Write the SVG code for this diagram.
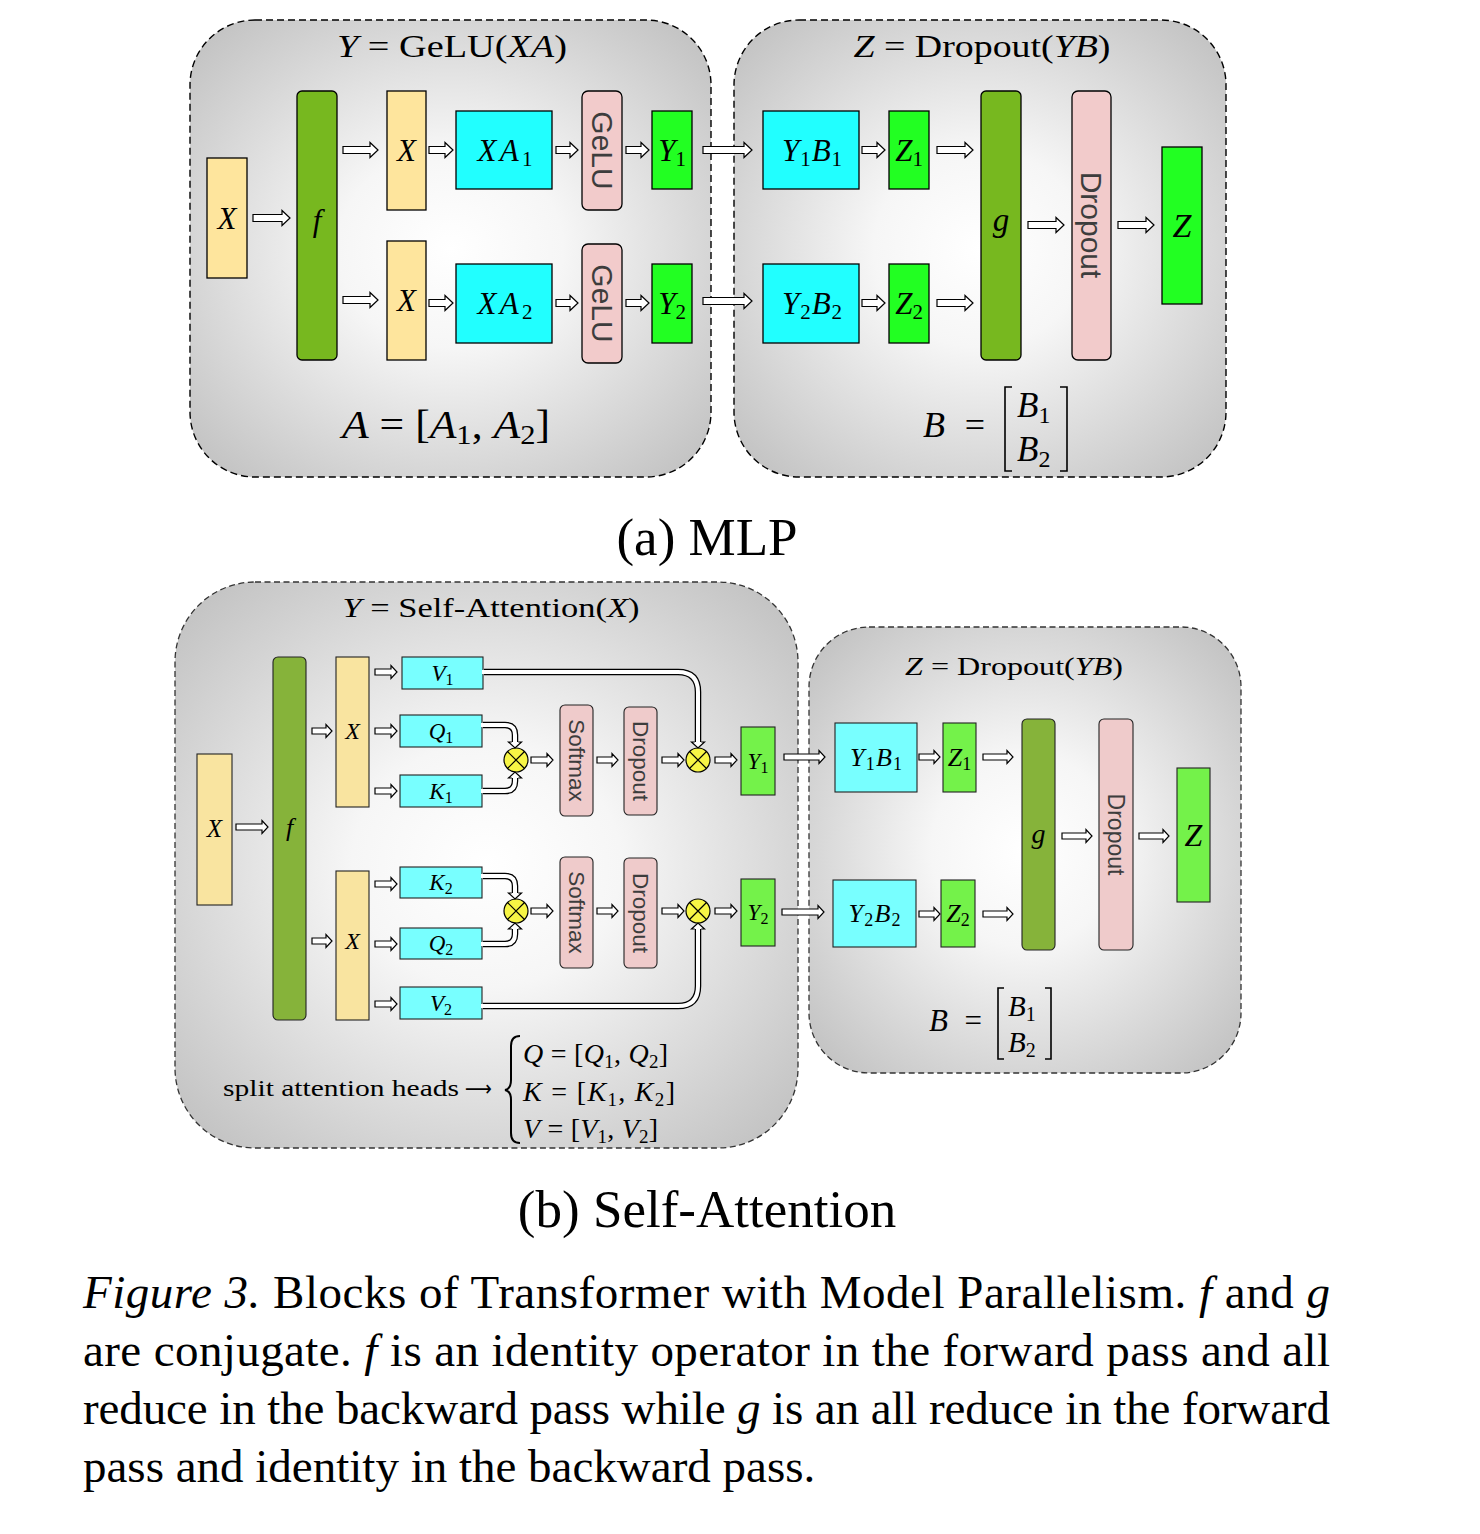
<svg xmlns="http://www.w3.org/2000/svg" width="1480" height="1534" viewBox="0 0 1480 1534">
<defs>
<radialGradient id="gr" cx="50%" cy="50%" r="72%">
<stop offset="0" stop-color="#ffffff"/>
<stop offset="0.3" stop-color="#f6f6f6"/>
<stop offset="1" stop-color="#bcbcbc"/>
</radialGradient>
</defs>
<style>
.panel{fill:url(#gr);stroke:#000;stroke-width:1.4;stroke-dasharray:7 4}
.panelb{fill:url(#gr);stroke:#333;stroke-width:1.3;stroke-dasharray:6 3.5}
.bx{stroke:#000;stroke-width:1.3}
.bx2{stroke:#222;stroke-width:1.1}
.yel{fill:#fee59d}.grn{fill:#77b81f}.cy{fill:#21ffff}.pk{fill:#f2cbcb}.lg{fill:#22ff22}
.yel2{fill:#f9e4a0}.grn2{fill:#86b33a}.cy2{fill:#78ffff}.pk2{fill:#efcbcb}.lg2{fill:#74f24a}
.m{font-family:"Liberation Serif","Times New Roman",serif;font-style:italic;fill:#000}
.r{font-style:normal}
.c{text-anchor:middle}
.sv{font-family:"Liberation Serif","Times New Roman",serif;fill:#000}
.sn{font-family:"Liberation Sans",Arial,sans-serif;fill:#3d3d3d;text-anchor:middle;dominant-baseline:central}
.ar{fill:#fff;stroke:#000;stroke-width:1.2;stroke-linejoin:miter}
.so{fill:none;stroke:#000;stroke-width:6.5}
.si{fill:none;stroke:#fff;stroke-width:4}
.ot{fill:#f7f545;stroke:#000;stroke-width:1.2}
.ox{stroke:#000;stroke-width:1.2;fill:none}
.br{fill:none;stroke:#000;stroke-width:1.6}
</style>
<rect width="1480" height="1534" fill="#fff"/>

<!-- Panel (a) -->
<g id="mlp-left-panel">
<rect class="panel" x="190" y="20" width="521" height="457" rx="65"/>
<text class="m c" x="452" y="57" font-size="31" textLength="230" lengthAdjust="spacingAndGlyphs">Y<tspan class="r"> = GeLU(</tspan>XA<tspan class="r">)</tspan></text>
<text class="m c" x="446" y="438" font-size="40" textLength="208" lengthAdjust="spacingAndGlyphs">A<tspan class="r"> = [</tspan>A<tspan class="r" font-size="28" dy="6">1</tspan><tspan class="r" dy="-6">, </tspan>A<tspan class="r" font-size="28" dy="6">2</tspan><tspan class="r" dy="-6">]</tspan></text>
</g>
<g id="mlp-right-panel">
<rect class="panel" x="734" y="20" width="492" height="457" rx="65"/>
<text class="m c" x="982" y="57" font-size="31" textLength="257" lengthAdjust="spacingAndGlyphs">Z<tspan class="r"> = Dropout(</tspan>YB<tspan class="r">)</tspan></text>
<text class="m" x="923" y="437" font-size="36" textLength="62" lengthAdjust="spacing">B<tspan class="r"> =</tspan></text>
<path class="br" d="M1012 387H1005V471H1012M1060 387H1067V471H1060"/>
<text class="m" x="1017" y="417" font-size="35">B<tspan class="r" font-size="24" dy="6">1</tspan></text>
<text class="m" x="1017" y="461" font-size="35">B<tspan class="r" font-size="24" dy="6">2</tspan></text>
</g>

<g id="a-x-in"><rect class="bx yel" x="207" y="158" width="40" height="120"/><text class="m c" x="227" y="229" font-size="31">X</text></g>
<g id="a-f"><rect class="bx grn" x="297" y="91" width="40" height="269" rx="5"/><text class="m c" x="317" y="231" font-size="31">f</text></g>
<g id="a-x1"><rect class="bx yel" x="387" y="91" width="39" height="119"/><text class="m c" x="406.5" y="161" font-size="31">X</text></g>
<g id="a-x2"><rect class="bx yel" x="387" y="241" width="39" height="119"/><text class="m c" x="406.5" y="311" font-size="31">X</text></g>
<g id="a-xa1"><rect class="bx cy" x="456" y="111" width="96" height="78"/><text class="m c" x="505" y="161" font-size="31" textLength="55" lengthAdjust="spacing">XA<tspan class="r" font-size="21" dy="5">1</tspan></text></g>
<g id="a-xa2"><rect class="bx cy" x="456" y="264" width="96" height="79"/><text class="m c" x="505" y="314" font-size="31" textLength="55" lengthAdjust="spacing">XA<tspan class="r" font-size="21" dy="5">2</tspan></text></g>
<g id="a-gelu1"><rect class="bx pk" x="582" y="91" width="40" height="119" rx="6"/><text class="sn" font-size="30" transform="translate(602 150.5) rotate(90)">GeLU</text></g>
<g id="a-gelu2"><rect class="bx pk" x="582" y="244" width="40" height="119" rx="6"/><text class="sn" font-size="30" transform="translate(602 303.5) rotate(90)">GeLU</text></g>
<g id="a-y1"><rect class="bx lg" x="652" y="111" width="40" height="78"/><text class="m c" x="672" y="161" font-size="31">Y<tspan class="r" font-size="21" dy="5">1</tspan></text></g>
<g id="a-y2"><rect class="bx lg" x="652" y="264" width="40" height="79"/><text class="m c" x="672" y="314" font-size="31">Y<tspan class="r" font-size="21" dy="5">2</tspan></text></g>
<g id="a-y1b1"><rect class="bx cy" x="763" y="111" width="96" height="78"/><text class="m c" x="812" y="161" font-size="31" textLength="60" lengthAdjust="spacing">Y<tspan class="r" font-size="21" dy="5">1</tspan><tspan dy="-5">B</tspan><tspan class="r" font-size="21" dy="5">1</tspan></text></g>
<g id="a-y2b2"><rect class="bx cy" x="763" y="264" width="96" height="79"/><text class="m c" x="812" y="314" font-size="31" textLength="60" lengthAdjust="spacing">Y<tspan class="r" font-size="21" dy="5">2</tspan><tspan dy="-5">B</tspan><tspan class="r" font-size="21" dy="5">2</tspan></text></g>
<g id="a-z1"><rect class="bx lg" x="889" y="111" width="40" height="78"/><text class="m c" x="909" y="161" font-size="31">Z<tspan class="r" font-size="21" dy="5">1</tspan></text></g>
<g id="a-z2"><rect class="bx lg" x="889" y="264" width="40" height="79"/><text class="m c" x="909" y="314" font-size="31">Z<tspan class="r" font-size="21" dy="5">2</tspan></text></g>
<g id="a-g"><rect class="bx grn" x="981" y="91" width="40" height="269" rx="5"/><text class="m c" x="1001" y="231" font-size="33">g</text></g>
<g id="a-dropout"><rect class="bx pk" x="1072" y="91" width="39" height="269" rx="6"/><text class="sn" font-size="30" transform="translate(1091.5 225) rotate(90)">Dropout</text></g>
<g id="a-z"><rect class="bx lg" x="1162" y="147" width="40" height="157"/><text class="m c" x="1182" y="237" font-size="34">Z</text></g>

<text class="sv c" x="707" y="555" font-size="53">(a) MLP</text>

<!-- Panel (b) -->
<g id="attn-left-panel">
<rect class="panelb" x="175" y="582" width="623" height="566" rx="80"/>
<text class="m c" x="491" y="617" font-size="28" textLength="297" lengthAdjust="spacingAndGlyphs">Y<tspan class="r"> = Self-Attention(</tspan>X<tspan class="r">)</tspan></text>
<text class="sv" x="223" y="1096" font-size="24" textLength="236" lengthAdjust="spacingAndGlyphs">split attention heads</text>
<text x="465" y="1096" font-family="DejaVu Sans, sans-serif" font-size="22" textLength="27" lengthAdjust="spacingAndGlyphs">⟶</text>
<path fill="none" stroke="#000" stroke-width="2" d="M520 1036Q511 1036 511 1046V1080Q511 1089 505 1090Q511 1091 511 1100V1133Q511 1143 520 1143"/>
<text class="m" x="523" y="1063" font-size="28" textLength="145" lengthAdjust="spacing">Q<tspan class="r"> = [</tspan>Q<tspan class="r" font-size="19" dy="5">1</tspan><tspan class="r" dy="-5">, </tspan>Q<tspan class="r" font-size="19" dy="5">2</tspan><tspan class="r" dy="-5">]</tspan></text>
<text class="m" x="523" y="1101" font-size="28" textLength="152" lengthAdjust="spacing">K<tspan class="r"> = [</tspan>K<tspan class="r" font-size="19" dy="5">1</tspan><tspan class="r" dy="-5">, </tspan>K<tspan class="r" font-size="19" dy="5">2</tspan><tspan class="r" dy="-5">]</tspan></text>
<text class="m" x="523" y="1138" font-size="28" textLength="135" lengthAdjust="spacing">V<tspan class="r"> = [</tspan>V<tspan class="r" font-size="19" dy="5">1</tspan><tspan class="r" dy="-5">, </tspan>V<tspan class="r" font-size="19" dy="5">2</tspan><tspan class="r" dy="-5">]</tspan></text>
</g>
<g id="attn-right-panel">
<rect class="panelb" x="809" y="627" width="432" height="446" rx="60"/>
<text class="m c" x="1014" y="675" font-size="26" textLength="218" lengthAdjust="spacingAndGlyphs">Z<tspan class="r"> = Dropout(</tspan>YB<tspan class="r">)</tspan></text>
<text class="m" x="929" y="1031" font-size="31" textLength="53" lengthAdjust="spacing">B<tspan class="r"> =</tspan></text>
<path class="br" d="M1004 988H998V1059H1004M1045 988H1051V1059H1045"/>
<text class="m" x="1008" y="1016" font-size="29">B<tspan class="r" font-size="20" dy="5">1</tspan></text>
<text class="m" x="1008" y="1052" font-size="29">B<tspan class="r" font-size="20" dy="5">2</tspan></text>
</g>

<g id="b-x-in"><rect class="bx2 yel2" x="197" y="754" width="35" height="151"/><text class="m c" x="214.5" y="837" font-size="25">X</text></g>
<g id="b-f"><rect class="bx2 grn2" x="273" y="657" width="33" height="363" rx="5"/><text class="m c" x="289.5" y="836" font-size="26">f</text></g>
<g id="b-x1"><rect class="bx2 yel2" x="336" y="657" width="33" height="150"/><text class="m c" x="352.5" y="739" font-size="24">X</text></g>
<g id="b-x2"><rect class="bx2 yel2" x="336" y="871" width="33" height="149"/><text class="m c" x="352.5" y="949" font-size="24">X</text></g>
<g id="b-v1"><rect class="bx2 cy2" x="402" y="657" width="81" height="32"/><text class="m c" x="442.5" y="681" font-size="23">V<tspan class="r" font-size="16" dy="4">1</tspan></text></g>
<g id="b-q1"><rect class="bx2 cy2" x="400" y="715" width="82" height="32"/><text class="m c" x="441" y="739" font-size="23">Q<tspan class="r" font-size="16" dy="4">1</tspan></text></g>
<g id="b-k1"><rect class="bx2 cy2" x="400" y="775" width="82" height="32"/><text class="m c" x="441" y="799" font-size="23">K<tspan class="r" font-size="16" dy="4">1</tspan></text></g>
<g id="b-k2"><rect class="bx2 cy2" x="400" y="867" width="82" height="31"/><text class="m c" x="441" y="890" font-size="23">K<tspan class="r" font-size="16" dy="4">2</tspan></text></g>
<g id="b-q2"><rect class="bx2 cy2" x="400" y="928" width="82" height="31"/><text class="m c" x="441" y="951" font-size="23">Q<tspan class="r" font-size="16" dy="4">2</tspan></text></g>
<g id="b-v2"><rect class="bx2 cy2" x="400" y="987" width="82" height="32"/><text class="m c" x="441" y="1011" font-size="23">V<tspan class="r" font-size="16" dy="4">2</tspan></text></g>
<g id="b-qk1"><circle class="ot" cx="516" cy="760" r="12"/><path class="ox" d="M507.5 751.5L524.5 768.5M524.5 751.5L507.5 768.5"/></g>
<g id="b-av1"><circle class="ot" cx="698" cy="760" r="12"/><path class="ox" d="M689.5 751.5L706.5 768.5M706.5 751.5L689.5 768.5"/></g>
<g id="b-qk2"><circle class="ot" cx="516" cy="911" r="12"/><path class="ox" d="M507.5 902.5L524.5 919.5M524.5 902.5L507.5 919.5"/></g>
<g id="b-av2"><circle class="ot" cx="698" cy="911" r="12"/><path class="ox" d="M689.5 902.5L706.5 919.5M706.5 902.5L689.5 919.5"/></g>
<g id="b-softmax1"><rect class="bx2 pk2" x="560" y="705" width="33" height="111" rx="5"/><text class="sn" font-size="22.5" transform="translate(576.5 760.5) rotate(90)">Softmax</text></g>
<g id="b-dropout1"><rect class="bx2 pk2" x="624" y="707" width="33" height="108" rx="5"/><text class="sn" font-size="22.5" transform="translate(640.5 761) rotate(90)">Dropout</text></g>
<g id="b-softmax2"><rect class="bx2 pk2" x="560" y="857" width="33" height="111" rx="5"/><text class="sn" font-size="22.5" transform="translate(576.5 912.5) rotate(90)">Softmax</text></g>
<g id="b-dropout2"><rect class="bx2 pk2" x="624" y="858" width="33" height="110" rx="5"/><text class="sn" font-size="22.5" transform="translate(640.5 913) rotate(90)">Dropout</text></g>
<g id="b-y1"><rect class="bx2 lg2" x="741" y="727" width="34" height="68"/><text class="m c" x="758" y="769" font-size="23">Y<tspan class="r" font-size="16" dy="4">1</tspan></text></g>
<g id="b-y2"><rect class="bx2 lg2" x="741" y="879" width="34" height="67"/><text class="m c" x="758" y="920" font-size="23">Y<tspan class="r" font-size="16" dy="4">2</tspan></text></g>
<g id="b-y1b1"><rect class="bx2 cy2" x="835" y="723" width="82" height="69"/><text class="m c" x="876" y="766" font-size="26" textLength="52" lengthAdjust="spacing">Y<tspan class="r" font-size="18" dy="4">1</tspan><tspan dy="-4">B</tspan><tspan class="r" font-size="18" dy="4">1</tspan></text></g>
<g id="b-y2b2"><rect class="bx2 cy2" x="833" y="880" width="83" height="67"/><text class="m c" x="874.5" y="922" font-size="26" textLength="52" lengthAdjust="spacing">Y<tspan class="r" font-size="18" dy="4">2</tspan><tspan dy="-4">B</tspan><tspan class="r" font-size="18" dy="4">2</tspan></text></g>
<g id="b-z1"><rect class="bx2 lg2" x="943" y="723" width="33" height="69"/><text class="m c" x="959.5" y="766" font-size="26">Z<tspan class="r" font-size="18" dy="4">1</tspan></text></g>
<g id="b-z2"><rect class="bx2 lg2" x="941" y="880" width="34" height="67"/><text class="m c" x="958" y="922" font-size="26">Z<tspan class="r" font-size="18" dy="4">2</tspan></text></g>
<g id="b-g"><rect class="bx2 grn2" x="1022" y="719" width="33" height="231" rx="5"/><text class="m c" x="1038.5" y="843" font-size="28">g</text></g>
<g id="b-dropout"><rect class="bx2 pk2" x="1099" y="719" width="34" height="231" rx="5"/><text class="sn" font-size="23" transform="translate(1116 834.5) rotate(90)">Dropout</text></g>
<g id="b-z"><rect class="bx2 lg2" x="1177" y="768" width="33" height="134"/><text class="m c" x="1193.5" y="846" font-size="32">Z</text></g>

<text class="sv c" x="707" y="1227" font-size="53">(b) Self-Attention</text>

<g id="connectors">
<path class="ar" d="M253 214.5H282V210.5L290 218L282 225.5V221.5H253Z"/>
<path class="ar" d="M343 146.5H370V142.5L378 150L370 157.5V153.5H343Z"/>
<path class="ar" d="M343 296.5H370V292.5L378 300L370 307.5V303.5H343Z"/>
<path class="ar" d="M429 146.5H445V142.5L453 150L445 157.5V153.5H429Z"/>
<path class="ar" d="M429 299.5H445V295.5L453 303L445 310.5V306.5H429Z"/>
<path class="ar" d="M556 146.5H570V142.5L578 150L570 157.5V153.5H556Z"/>
<path class="ar" d="M556 299.5H570V295.5L578 303L570 310.5V306.5H556Z"/>
<path class="ar" d="M626 146.5H641V142.5L649 150L641 157.5V153.5H626Z"/>
<path class="ar" d="M626 299.5H641V295.5L649 303L641 310.5V306.5H626Z"/>
<path class="ar" d="M703 146.5H744V142.5L752 150L744 157.5V153.5H703Z"/>
<path class="ar" d="M703 297.5H744V293.5L752 301L744 308.5V304.5H703Z"/>
<path class="ar" d="M862 146.5H877V142.5L885 150L877 157.5V153.5H862Z"/>
<path class="ar" d="M862 299.5H877V295.5L885 303L877 310.5V306.5H862Z"/>
<path class="ar" d="M937 146.5H965V142.5L973 150L965 157.5V153.5H937Z"/>
<path class="ar" d="M937 299.5H965V295.5L973 303L965 310.5V306.5H937Z"/>
<path class="ar" d="M1028 221.5H1056V217.5L1064 225L1056 232.5V228.5H1028Z"/>
<path class="ar" d="M1118 221.5H1146V217.5L1154 225L1146 232.5V228.5H1118Z"/>

<path class="ar" d="M236 824H262V820.5L268 827L262 833.5V830H236Z"/>
<path class="ar" d="M312 728H326V724.5L332 731L326 737.5V734H312Z"/>
<path class="ar" d="M312 938H326V934.5L332 941L326 947.5V944H312Z"/>
<path class="ar" d="M375 669H391V665.5L397 672L391 678.5V675H375Z"/>
<path class="ar" d="M375 728H391V724.5L397 731L391 737.5V734H375Z"/>
<path class="ar" d="M375 788H391V784.5L397 791L391 797.5V794H375Z"/>
<path class="ar" d="M375 881H391V877.5L397 884L391 890.5V887H375Z"/>
<path class="ar" d="M375 941H391V937.5L397 944L391 950.5V947H375Z"/>
<path class="ar" d="M375 1001H391V997.5L397 1004L391 1010.5V1007H375Z"/>
<path class="ar" d="M531 757H547V753.5L553 760L547 766.5V763H531Z"/>
<path class="ar" d="M531 908H547V904.5L553 911L547 917.5V914H531Z"/>
<path class="ar" d="M597 757H612V753.5L618 760L612 766.5V763H597Z"/>
<path class="ar" d="M597 908H612V904.5L618 911L612 917.5V914H597Z"/>
<path class="ar" d="M662 757H678V753.5L684 760L678 766.5V763H662Z"/>
<path class="ar" d="M662 908H678V904.5L684 911L678 917.5V914H662Z"/>
<path class="ar" d="M715 757H731V753.5L737 760L731 766.5V763H715Z"/>
<path class="ar" d="M715 908H731V904.5L737 911L731 917.5V914H715Z"/>
<path class="ar" d="M784 754H819V750.5L825 757L819 763.5V760H784Z"/>
<path class="ar" d="M782 909H818V905.5L824 912L818 918.5V915H782Z"/>
<path class="ar" d="M919 754H934V750.5L940 757L934 763.5V760H919Z"/>
<path class="ar" d="M919 911H934V907.5L940 914L934 920.5V917H919Z"/>
<path class="ar" d="M983 754H1007V750.5L1013 757L1007 763.5V760H983Z"/>
<path class="ar" d="M983 911H1007V907.5L1013 914L1007 920.5V917H983Z"/>
<path class="ar" d="M1062 833H1086V829.5L1092 836L1086 842.5V839H1062Z"/>
<path class="ar" d="M1139 833H1163V829.5L1169 836L1163 842.5V839H1139Z"/>

<path class="so" d="M483 725H505Q515 725 515 735V742"/><path class="si" d="M481 725H505Q515 725 515 735V743"/>
<path class="ar" d="M511.75 742H508.5L515 748L521.5 742H518.25"/>
<path class="so" d="M483 791H505Q515 791 515 781V778"/><path class="si" d="M481 791H505Q515 791 515 781V777"/>
<path class="ar" d="M511.75 778H508.5L515 772L521.5 778H518.25"/>
<path class="so" d="M483 876H505Q515 876 515 886V893"/><path class="si" d="M481 876H505Q515 876 515 886V894"/>
<path class="ar" d="M511.75 893H508.5L515 899L521.5 893H518.25"/>
<path class="so" d="M483 944H505Q515 944 515 934V929"/><path class="si" d="M481 944H505Q515 944 515 934V928"/>
<path class="ar" d="M511.75 929H508.5L515 923L521.5 929H518.25"/>
<path class="so" d="M484 672H678Q698 672 698 692V742"/><path class="si" d="M482 672H678Q698 672 698 692V743"/>
<path class="ar" d="M694.75 742H691.5L698 748L704.5 742H701.25"/>
<path class="so" d="M483 1006H678Q698 1006 698 986V929"/><path class="si" d="M481 1006H678Q698 1006 698 986V928"/>
<path class="ar" d="M694.75 929H691.5L698 923L704.5 929H701.25"/>
</g>

<g id="caption">
<text class="sv" x="83" y="1308" font-size="47" textLength="1247" lengthAdjust="spacing"><tspan font-style="italic">Figure 3.</tspan> Blocks of Transformer with Model Parallelism. <tspan font-style="italic">f</tspan> and <tspan font-style="italic">g</tspan></text>
<text class="sv" x="83" y="1366" font-size="47" textLength="1247" lengthAdjust="spacing">are conjugate. <tspan font-style="italic">f</tspan> is an identity operator in the forward pass and all</text>
<text class="sv" x="83" y="1424" font-size="47" textLength="1247" lengthAdjust="spacing">reduce in the backward pass while <tspan font-style="italic">g</tspan> is an all reduce in the forward</text>
<text class="sv" x="83" y="1482" font-size="47">pass and identity in the backward pass.</text>
</g>
</svg>
